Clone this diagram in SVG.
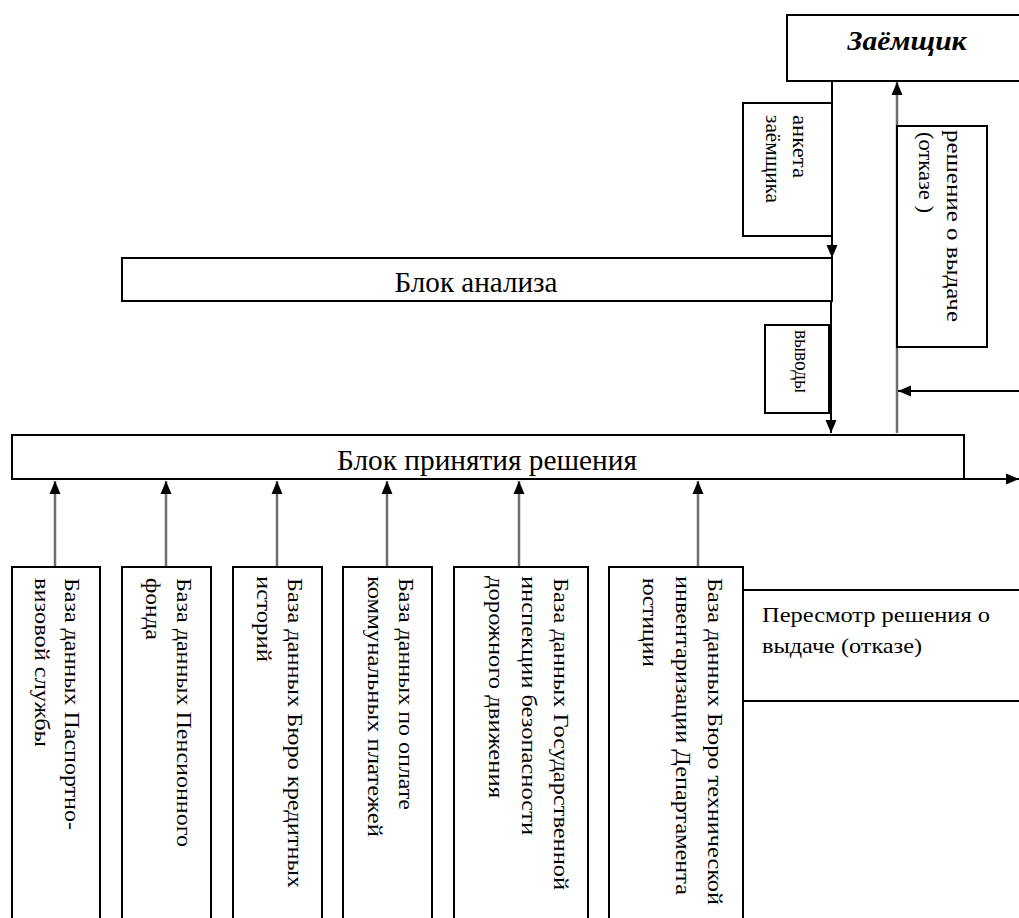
<svg xmlns="http://www.w3.org/2000/svg" width="1019" height="918" viewBox="0 0 1019 918">
<style>
.box{fill:#fff;stroke:#000;stroke-width:2}
.t{font-family:'Liberation Serif','DejaVu Serif','Times New Roman',serif;fill:#000}
.big{font-size:30px}
.v{font-size:20px}
.ln{stroke:#000;stroke-width:2;fill:none}
.gl{stroke:#6e6e6e;stroke-width:2.5;fill:none}
</style>
<defs>
<marker id="ah" markerUnits="userSpaceOnUse" markerWidth="14" markerHeight="14" viewBox="0 0 14 14" refX="13" refY="7" orient="auto">
<path d="M0,1.5 L13,7 L0,12.5 Z" fill="#000"/>
</marker>
</defs>
<rect width="1019" height="918" fill="#fff"/>

<g id="connectors">
<line class="ln" x1="832" y1="81" x2="832" y2="258" marker-end="url(#ah)"/>
<line class="gl" x1="897" y1="433" x2="897" y2="82" marker-end="url(#ah)"/>
<line class="ln" x1="1019" y1="391" x2="898" y2="391" marker-end="url(#ah)"/>
<line class="ln" x1="831" y1="301" x2="831" y2="433" marker-end="url(#ah)"/>
<line class="ln" x1="964" y1="479" x2="1019" y2="479" marker-end="url(#ah)"/>
<line class="gl" x1="55" y1="567" x2="55" y2="481" marker-end="url(#ah)"/>
<line class="gl" x1="166" y1="567" x2="166" y2="481" marker-end="url(#ah)"/>
<line class="gl" x1="277" y1="567" x2="277" y2="481" marker-end="url(#ah)"/>
<line class="gl" x1="387" y1="567" x2="387" y2="481" marker-end="url(#ah)"/>
<line class="gl" x1="519" y1="567" x2="519" y2="481" marker-end="url(#ah)"/>
<line class="gl" x1="698" y1="567" x2="698" y2="481" marker-end="url(#ah)"/>
</g>

<g font-family="Liberation Serif, DejaVu Serif, serif">
<g id="borrower">
<rect class="box" x="787" y="15" width="250" height="66"/>
<text class="t" x="907" y="50" text-anchor="middle" font-size="27" font-weight="bold" font-style="italic" textLength="119" lengthAdjust="spacingAndGlyphs">Заёмщик</text>
</g>

<g id="questionnaire">
<rect class="box" x="743" y="103" width="89" height="133"/>
<text class="t v" transform="translate(793,115) rotate(90)" textLength="63" lengthAdjust="spacingAndGlyphs">анкета</text>
<text class="t v" transform="translate(766,115) rotate(90)" textLength="88" lengthAdjust="spacingAndGlyphs">заёмщика</text>
</g>

<g id="decision-label">
<rect class="box" x="897" y="126" width="90" height="221"/>
<text class="t v" transform="translate(947,130) rotate(90)" textLength="192" lengthAdjust="spacingAndGlyphs">решение о выдаче</text>
<text class="t v" transform="translate(919,132) rotate(90)" textLength="81" lengthAdjust="spacingAndGlyphs">(отказе )</text>
</g>

<g id="analysis">
<rect class="box" x="122" y="258" width="710" height="43"/>
<text class="t big" x="476" y="292" text-anchor="middle" textLength="163" lengthAdjust="spacingAndGlyphs">Блок анализа</text>
</g>

<g id="conclusions">
<rect class="box" x="765" y="325" width="64" height="88"/>
<text class="t v" transform="translate(795,330) rotate(90)" textLength="63" lengthAdjust="spacingAndGlyphs">выводы</text>
</g>

<g id="decision">
<rect class="box" x="12" y="435" width="952" height="44"/>
<text class="t big" x="487" y="470" text-anchor="middle" textLength="300" lengthAdjust="spacingAndGlyphs">Блок принятия решения</text>
</g>

<g id="review">
<rect class="box" x="743" y="590" width="300" height="111"/>
<text class="t" x="762" y="622" font-size="22" textLength="228" lengthAdjust="spacingAndGlyphs">Пересмотр решения о</text>
<text class="t" x="762" y="653" font-size="22" textLength="160" lengthAdjust="spacingAndGlyphs">выдаче (отказе)</text>
</g>

<g id="db-passport">
<rect class="box" x="12" y="567" width="88" height="400"/>
<text class="t v" transform="translate(65,578) rotate(90)" textLength="252" lengthAdjust="spacingAndGlyphs">База данных Паспортно-</text>
<text class="t v" transform="translate(35,578) rotate(90)" textLength="169" lengthAdjust="spacingAndGlyphs">визовой службы</text>
</g>

<g id="db-pension">
<rect class="box" x="122" y="567" width="89" height="400"/>
<text class="t v" transform="translate(177,578) rotate(90)" textLength="269" lengthAdjust="spacingAndGlyphs">База данных Пенсионного</text>
<text class="t v" transform="translate(146,578) rotate(90)" textLength="62" lengthAdjust="spacingAndGlyphs">фонда</text>
</g>

<g id="db-credit">
<rect class="box" x="233" y="567" width="89" height="400"/>
<text class="t v" transform="translate(288,578) rotate(90)" textLength="310" lengthAdjust="spacingAndGlyphs">База данных Бюро кредитных</text>
<text class="t v" transform="translate(257,576) rotate(90)" textLength="86" lengthAdjust="spacingAndGlyphs">историй</text>
</g>

<g id="db-utilities">
<rect class="box" x="343" y="567" width="89" height="400"/>
<text class="t v" transform="translate(399,578) rotate(90)" textLength="232" lengthAdjust="spacingAndGlyphs">База данных по оплате</text>
<text class="t v" transform="translate(368,576) rotate(90)" textLength="261" lengthAdjust="spacingAndGlyphs">коммунальных платежей</text>
</g>

<g id="db-traffic">
<rect class="box" x="454" y="567" width="134" height="400"/>
<text class="t v" transform="translate(554,578) rotate(90)" textLength="312" lengthAdjust="spacingAndGlyphs">База данных Государственной</text>
<text class="t v" transform="translate(522,576) rotate(90)" textLength="259" lengthAdjust="spacingAndGlyphs">инспекции безопасности</text>
<text class="t v" transform="translate(489,576) rotate(90)" textLength="222" lengthAdjust="spacingAndGlyphs">дорожного движения</text>
</g>

<g id="db-bti">
<rect class="box" x="609" y="567" width="134" height="400"/>
<text class="t v" transform="translate(708,578) rotate(90)" textLength="327" lengthAdjust="spacingAndGlyphs">База данных Бюро технической</text>
<text class="t v" transform="translate(676,576) rotate(90)" textLength="319" lengthAdjust="spacingAndGlyphs">инвентаризации Департамента</text>
<text class="t v" transform="translate(643,578) rotate(90)" textLength="89" lengthAdjust="spacingAndGlyphs">юстиции</text>
</g>
</g>
</svg>
